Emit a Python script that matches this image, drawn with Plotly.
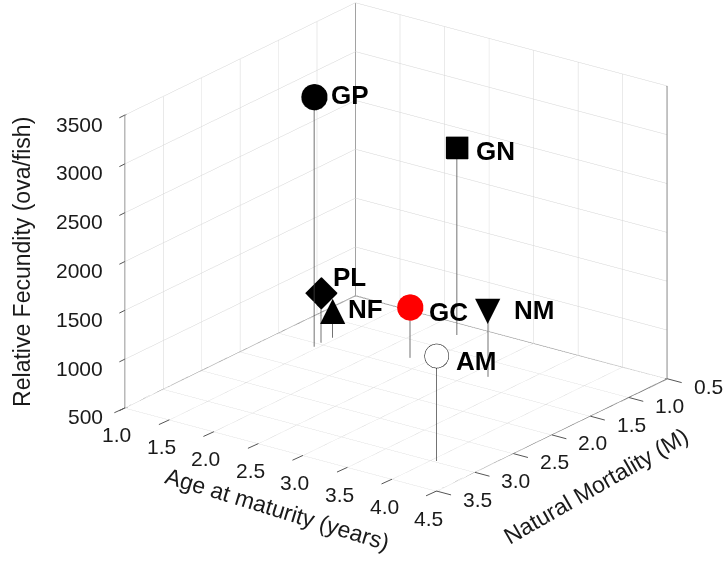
import plotly.graph_objects as go

# Species codes and their life-history values
species = ["GP", "GN", "PL", "NF", "GC", "NM", "AM"]
age_at_maturity = [1.46, 2.32, 1.45, 1.46, 2.32, 3.17, 4.05]      # years
natural_mortality = [1.57, 0.71, 1.47, 1.33, 1.32, 1.29, 2.98]    # M
relative_fecundity = [3060, 2420, 1010, 790, 1020, 1190, 1580]    # ova/fish

age_ticks = [1.0, 1.5, 2.0, 2.5, 3.0, 3.5, 4.0, 4.5]
mort_ticks = [0.5, 1.0, 1.5, 2.0, 2.5, 3.0, 3.5]
fec_ticks = [500, 1000, 1500, 2000, 2500, 3000, 3500]

AGE_RANGE = [age_ticks[0], age_ticks[-1]]
MORT_RANGE = [mort_ticks[0], mort_ticks[-1]]
FEC_RANGE = [fec_ticks[0], fec_ticks[-1]]

FONT = "Liberation Sans, Arial, sans-serif"
TEXT_COLOR = "#1a1a1a"
TICK_COLOR = "#555555"
EPS = 1e-6  # keeps edge annotations inside the axis ranges


def inside(v, rng):
    return min(max(v, rng[0] + EPS * (rng[1] - rng[0])), rng[1] - EPS * (rng[1] - rng[0]))


# marker style per species
styles = {
    "GP": dict(kind="marker", symbol="circle", size=15, color="black", line="black"),
    "GN": dict(kind="marker", symbol="square", size=11.5, color="black", line="black"),
    "PL": dict(kind="marker", symbol="diamond", size=10.5, color="black", line="black"),
    "NF": dict(kind="glyph", glyph="\u25B2", size=33),
    "GC": dict(kind="marker", symbol="circle", size=15, color="red", line="red"),
    "NM": dict(kind="glyph", glyph="\u25BC", size=33),
    "AM": dict(kind="marker", symbol="circle", size=14, color="white", line="black"),
}
# label offsets (pixels) from each symbol
label_shift = {"GP": (15, 2), "GN": (17, -4), "PL": (10, 16),
               "NF": (13, 0), "GC": (17, -5), "NM": (24, -1), "AM": (18, -6)}

fig = go.Figure()

# box edges of the back walls and the floor
a0, a1 = AGE_RANGE
m0, m1 = MORT_RANGE
f0, f1 = FEC_RANGE
edges = [
    ((m0, a0, f0), (m0, a0, f1)),  # back vertical
    ((m1, a0, f0), (m1, a0, f1)),  # left vertical
    ((m0, a1, f0), (m0, a1, f1)),  # right vertical
    ((m1, a0, f1), (m0, a0, f1)),  # top of left wall
    ((m0, a0, f1), (m0, a1, f1)),  # top of right wall
    ((m1, a0, f0), (m0, a0, f0)),  # floor edges
    ((m0, a0, f0), (m0, a1, f0)),
    ((m1, a0, f0), (m1, a1, f0)),
    ((m0, a1, f0), (m1, a1, f0)),
]
ex, ey, ez = [], [], []
for p, q in edges:
    ex += [p[0], q[0], None]
    ey += [p[1], q[1], None]
    ez += [p[2], q[2], None]
fig.add_trace(go.Scatter3d(x=ex, y=ey, z=ez, mode="lines",
                           line=dict(color="#707070", width=2),
                           hoverinfo="skip", showlegend=False))

# drop lines from each point to the floor
dx, dy, dz = [], [], []
for m, a, f in zip(natural_mortality, age_at_maturity, relative_fecundity):
    dx += [m, m, None]
    dy += [a, a, None]
    dz += [FEC_RANGE[0], f, None]
fig.add_trace(go.Scatter3d(x=dx, y=dy, z=dz, mode="lines",
                           line=dict(color="#444444", width=1.5),
                           hoverinfo="skip", showlegend=False))

scene_ann = []

# symbols and labels
for name, m, a, f in zip(species, natural_mortality, age_at_maturity, relative_fecundity):
    st = styles[name]
    if st["kind"] == "marker":
        fig.add_trace(go.Scatter3d(
            x=[m], y=[a], z=[f], mode="markers",
            marker=dict(symbol=st["symbol"], size=st["size"], color=st["color"],
                        line=dict(color=st["line"], width=1.5), opacity=1),
            showlegend=False, name=name))
    else:
        scene_ann.append(dict(x=m, y=a, z=f, text=st["glyph"], showarrow=False,
                              xanchor="center", yanchor="middle", yshift=1,
                              font=dict(family="DejaVu Sans", size=st["size"],
                                        color="black")))
    sx, sy = label_shift[name]
    scene_ann.append(dict(x=m, y=a, z=f, text="<b>" + name + "</b>", showarrow=False,
                          xanchor="left", yanchor="middle", xshift=sx, yshift=sy,
                          font=dict(family=FONT, size=26, color="black")))


def tick_mark(x, y, z, ax, ay):
    # short outward tick drawn as a head-less arrow ending on the edge
    return dict(x=x, y=y, z=z, text=" ", showarrow=True, arrowhead=0,
                arrowwidth=1, arrowcolor=TICK_COLOR, ax=ax, ay=ay,
                borderpad=0, font=dict(size=1, color="white"))


# horizontal tick labels and tick marks on the outer edges
tick_font = dict(family=FONT, size=21, color=TEXT_COLOR)
for v in fec_ticks:
    px, py, pz = inside(m1, MORT_RANGE), inside(a0, AGE_RANGE), inside(v, FEC_RANGE)
    scene_ann.append(tick_mark(px, py, pz, -6, 3))
    scene_ann.append(dict(x=px, y=py, z=pz, text=f"{v}", showarrow=False,
                          xanchor="right", yanchor="middle",
                          xshift=-20, yshift=-9, font=tick_font))
for v in age_ticks:
    px, py, pz = inside(m1, MORT_RANGE), inside(v, AGE_RANGE), inside(f0, FEC_RANGE)
    scene_ann.append(tick_mark(px, py, pz, -11, 5))
    scene_ann.append(dict(x=px, y=py, z=pz, text=f"{v:.1f}", showarrow=False,
                          xanchor="center", yanchor="middle",
                          xshift=-8, yshift=-27, font=tick_font))
for v in mort_ticks:
    px, py, pz = inside(v, MORT_RANGE), inside(a1, AGE_RANGE), inside(f0, FEC_RANGE)
    scene_ann.append(tick_mark(px, py, pz, 15, 4))
    scene_ann.append(dict(x=px, y=py, z=pz, text=f"{v:.1f}", showarrow=False,
                          xanchor="center", yanchor="middle",
                          xshift=41, yshift=-8, font=tick_font))

title_font = dict(family=FONT, size=23, color=TEXT_COLOR)
annotations = [
    dict(text="Relative Fecundity (ova/fish)", x=0.030, y=0.536,
         xref="paper", yref="paper", xanchor="center", yanchor="middle",
         showarrow=False, textangle=-90, font=title_font),
    dict(text="Age at maturity (years)", x=0.383, y=0.099,
         xref="paper", yref="paper", xanchor="center", yanchor="middle",
         showarrow=False, textangle=17, font=title_font),
    dict(text="Natural Mortality (M)", x=0.823, y=0.139,
         xref="paper", yref="paper", xanchor="center", yanchor="middle",
         showarrow=False, textangle=-30, font=title_font),
]

axis_common = dict(
    showbackground=True, backgroundcolor="white",
    gridcolor="#d4d4d4", gridwidth=1,
    showline=False, zeroline=False, showticklabels=False, ticks="",
    showspikes=False, title=dict(text=""),
)

ZOOM = 1.57
fig.update_layout(
    width=724, height=565,
    paper_bgcolor="white",
    margin=dict(l=0, r=0, t=0, b=0),
    font=dict(family=FONT),
    annotations=annotations,
    scene=dict(
        domain=dict(x=[0.094, 1], y=[0.126, 1]),
        xaxis=dict(axis_common, range=MORT_RANGE, tickvals=mort_ticks, autorange=False),
        yaxis=dict(axis_common, range=AGE_RANGE, tickvals=age_ticks, autorange=False),
        zaxis=dict(axis_common, range=FEC_RANGE, tickvals=fec_ticks, autorange=False),
        aspectmode="manual",
        aspectratio=dict(x=1 * ZOOM, y=1 * ZOOM, z=0.81 * ZOOM),
        annotations=scene_ann,
        camera=dict(
            projection=dict(type="orthographic"),
            up=dict(x=0, y=0, z=1),
            center=dict(x=0, y=0, z=0),
            eye=dict(x=0.750 * 2.0, y=0.555 * 2.0, z=0.3605 * 2.0),
        ),
    ),
)

fig.write_html("out.html")
